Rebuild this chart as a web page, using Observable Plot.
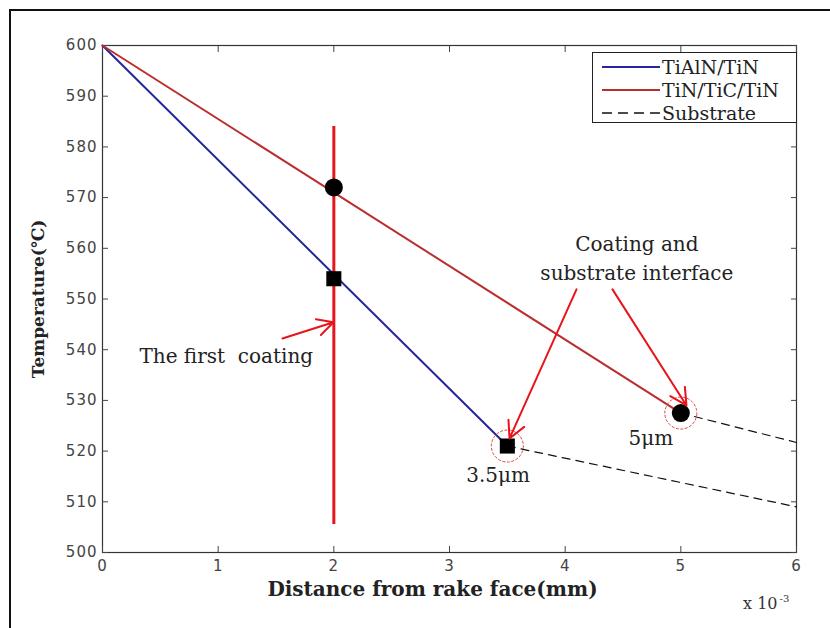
<!DOCTYPE html>
<html>
<head>
<meta charset="utf-8">
<script src="https://cdn.jsdelivr.net/npm/d3@7"></script>
<script src="https://cdn.jsdelivr.net/npm/@observablehq/plot@0.6"></script>
<style>
  html, body { margin: 0; padding: 0; background: #fff; }
  #wrap { position: relative; width: 830px; height: 628px; overflow: hidden; }
  #outer { position: absolute; left: 9px; top: 9px; width: 840px; height: 640px; border: 2px solid #111; box-sizing: border-box; pointer-events: none; }
  #legend { position: absolute; left: 592px; top: 52px; width: 205px; height: 71px; border: 1.5px solid #222; background: #fff; box-sizing: border-box; font-family: "DejaVu Serif", serif; font-size: 19px; color: #222; }
  .row { position: absolute; left: 0; height: 22px; line-height: 22px; display: flex; align-items: center; white-space: nowrap; }
  .row svg { margin-left: 9px; margin-right: 2px; }
  g[aria-label="y-axis tick label"] text, g[aria-label="x-axis tick label"] text { letter-spacing: 1px; }
</style>
</head>
<body>
<div id="wrap">
  <div id="chart"></div>
  <div id="outer"></div>
  <div id="legend"></div>
</div>
<script>
// ---- data (distance in mm ×10^-3, temperature in °C) ----
const seriesNames = ["TiAlN/TiN", "TiN/TiC/TiN", "Substrate"];
const seriesColors = ["#25259c", "#bb2e2e", "#111111"];

const tialnX = [0, 3.5];
const tialnT = [600, 521];
const tincX = [0, 5];
const tincT = [600, 527.5];
const subTialnX = [3.5, 6];
const subTialnT = [521, 509];
const subTincX = [5, 6];
const subTincT = [527.5, 521.7];

const firstCoatingX = 2;
const firstCoatingSpan = [505.5, 584];
const squareX = [2, 3.5];
const squareT = [554, 521];
const circleX = [2, 5];
const circleT = [572, 527.5];
const interfaceX = [3.5, 5];
const interfaceT = [521, 527.5];

const xTicks = [0, 1, 2, 3, 4, 5, 6];
const yTicks = [500, 510, 520, 530, 540, 550, 560, 570, 580, 590, 600];

// annotations (data coordinates)
const noteText = ["The first  coating", "Coating and", "substrate interface", "3.5μm", "5μm"];
const noteX = [1.07, 4.62, 4.62, 3.42, 4.74];
const noteT = [538.7, 560.8, 555.0, 515.2, 522.5];
const arrowX1 = [1.556, 4.098, 4.409];
const arrowT1 = [542.2, 551.9, 551.9];
const arrowX2 = [1.997, 3.519, 5.049];
const arrowT2 = [545.4, 522.5, 529.0];

const xLabel = "Distance from rake face(mm)";
const yLabel = "Temperature(℃)";

// ---- build tables ----
const pts = (xs, ts) => xs.map((x, i) => ({x, t: ts[i]}));
const notes = noteText.map((s, i) => ({s, x: noteX[i], t: noteT[i]}));
const arrows = arrowX1.map((x1, i) => ({x1, t1: arrowT1[i], x2: arrowX2[i], t2: arrowT2[i]}));

const serif = "DejaVu Serif, serif";
const chart = Plot.plot({
  width: 830,
  height: 628,
  marginLeft: 102,
  marginRight: 34,
  marginTop: 45,
  marginBottom: 76,
  x: {domain: [0, 6]},
  y: {domain: [500, 600]},
  style: {fontFamily: "DejaVu Sans, sans-serif", background: "transparent", overflow: "visible"},
  marks: [
    Plot.frame({stroke: "#333", strokeWidth: 1.2}),
    Plot.axisX(xTicks, {anchor: "bottom", tickSize: -6, tickPadding: 14, tickFormat: d3.format("d"), fontSize: 15, fill: "#444", stroke: "#444", label: null}),
    Plot.axisX(xTicks, {anchor: "top", tickSize: -6, tickFormat: () => "", stroke: "#444", label: null}),
    Plot.axisY(yTicks, {anchor: "left", tickSize: -6, tickPadding: 11, fontSize: 15, fill: "#444", stroke: "#444", label: null}),
    Plot.axisY(yTicks, {anchor: "right", tickSize: -6, tickFormat: () => "", stroke: "#444", label: null}),
    Plot.line(pts(subTialnX, subTialnT), {x: "x", y: "t", stroke: seriesColors[2], strokeWidth: 1.2, strokeDasharray: "8,6"}),
    Plot.line(pts(subTincX, subTincT), {x: "x", y: "t", stroke: seriesColors[2], strokeWidth: 1.2, strokeDasharray: "8,6"}),
    Plot.line(pts(tialnX, tialnT), {x: "x", y: "t", stroke: seriesColors[0], strokeWidth: 2}),
    Plot.line(pts(tincX, tincT), {x: "x", y: "t", stroke: seriesColors[1], strokeWidth: 2}),
    Plot.ruleX([firstCoatingX], {y1: firstCoatingSpan[0], y2: firstCoatingSpan[1], stroke: "#e8141c", strokeWidth: 3}),
    Plot.dot(pts(interfaceX, interfaceT), {x: "x", y: "t", r: 16, stroke: "#e04545", strokeWidth: 1, strokeDasharray: "3,1.5"}),
    Plot.dot(pts(circleX, circleT), {x: "x", y: "t", r: 9, fill: "#000", symbol: "circle"}),
    Plot.dot(pts(squareX, squareT), {x: "x", y: "t", r: 8.5, fill: "#000", symbol: "square"}),
    Plot.arrow(arrows, {x1: "x1", y1: "t1", x2: "x2", y2: "t2", stroke: "#e8141c", strokeWidth: 2, headLength: 14, headAngle: 55}),
    Plot.text(notes, {x: "x", y: "t", text: "s", fontFamily: serif, fontSize: 20, fill: "#222"}),
    Plot.text([xLabel], {frameAnchor: "bottom", dx: -17, dy: 43, fontFamily: serif, fontWeight: "bold", fontSize: 20, fill: "#222"}),
    Plot.text([yLabel], {frameAnchor: "left", textAnchor: "middle", rotate: -90, dx: -64, fontFamily: serif, fontWeight: "bold", fontSize: 17, fill: "#222"}),
    Plot.text(["x 10"], {frameAnchor: "bottom-right", textAnchor: "end", dx: -19, dy: 56, fontFamily: serif, fontSize: 16, fill: "#333"}),
    Plot.text(["-3"], {frameAnchor: "bottom-right", textAnchor: "start", dx: -17, dy: 49, fontFamily: serif, fontSize: 10, fill: "#333"})
  ]
});
document.getElementById("chart").appendChild(chart);

// legend
const legend = d3.select("#legend");
const rowTops = [3, 26, 49];
seriesNames.forEach((name, i) => {
  const row = legend.append("div").attr("class", "row").style("top", rowTops[i] + "px");
  const svg = row.append("svg").attr("width", 58).attr("height", 10);
  svg.append("line").attr("x1", 0).attr("x2", 58).attr("y1", 5).attr("y2", 5)
    .attr("stroke", seriesColors[i]).attr("stroke-width", i === 2 ? 1.3 : 2)
    .attr("stroke-dasharray", i === 2 ? "10,6" : null);
  row.append("span").text(name);
});
</script>
</body>
</html>
